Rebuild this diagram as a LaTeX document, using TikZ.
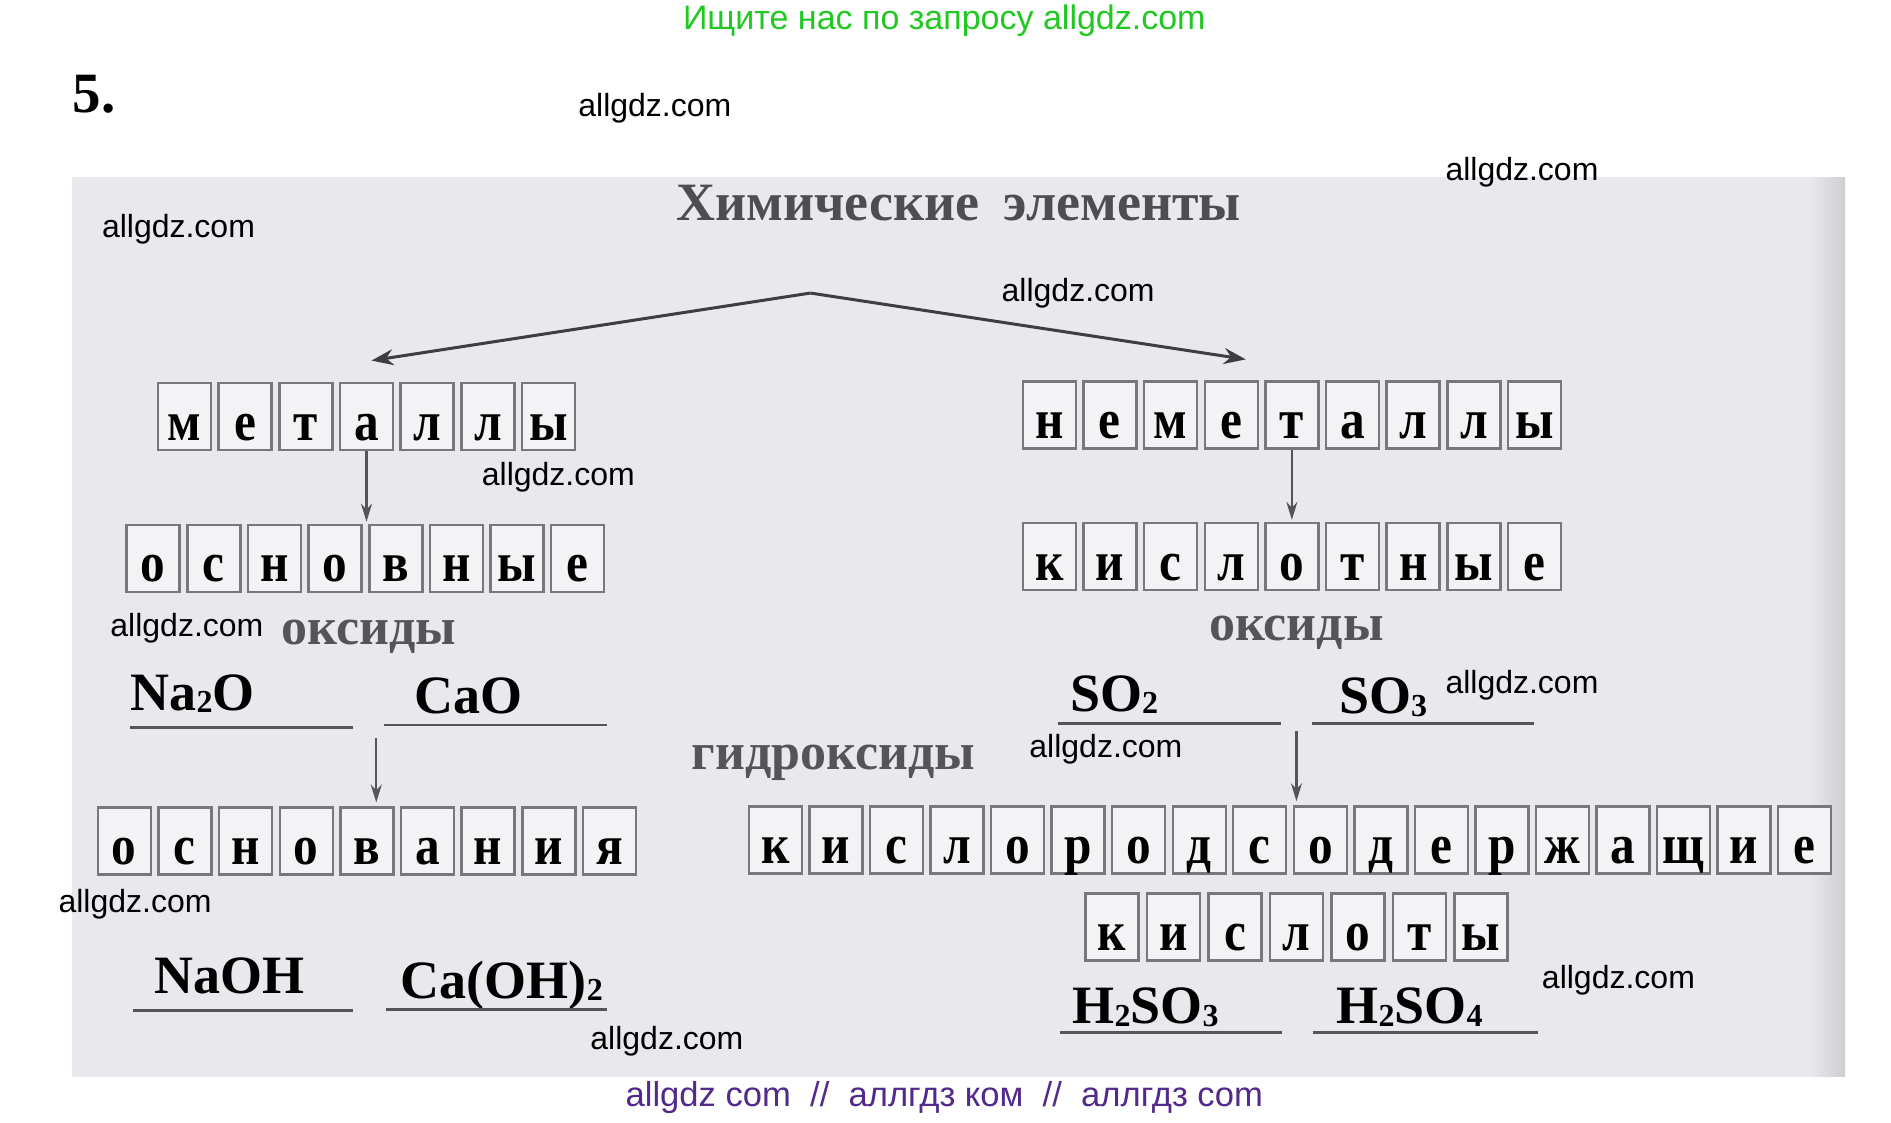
\documentclass[tikz,border=0pt]{standalone}
\usepackage{fontspec}
\setmainfont{Liberation Serif}
\newfontfamily\wmfont{Liberation Sans}
\usetikzlibrary{arrows.meta,calc}
\definecolor{panelbg}{RGB}{233,233,237}
\definecolor{paneledge}{RGB}{205,205,210}
\definecolor{boxfill}{RGB}{243,243,246}
\definecolor{boxline}{RGB}{120,120,124}
\definecolor{inkgray}{RGB}{62,62,64}
\definecolor{titlegray}{RGB}{78,78,80}
\definecolor{labgray}{RGB}{85,85,88}
\definecolor{wmgreen}{RGB}{34,200,34}
\definecolor{wmpurple}{RGB}{82,42,140}
\newcommand\lowdig[1]{\raisebox{-0.04em}{\fontsize{16}{16}\selectfont #1}}
\newcommand\letterrow[5]{%
  \foreach \ch [count=\i] in {#5}{\node[lbox] (#1\i) at ({#2+#4*(\i-1)},#3) {\scalebox{0.88}[1]{\ch}};}}
\tikzset{
  lbox/.style={draw=boxline, line width=1.2pt, fill=boxfill, minimum width=26.5pt,
    minimum height=33.5pt, inner sep=0pt, text height=24pt, text depth=0.5pt,
    font=\bfseries\fontsize{28}{28}\selectfont},
  formula/.style={anchor=base west, inner sep=0pt, font=\bfseries\fontsize{27}{27}\selectfont},
  uline/.style={draw=labgray, line width=1.3pt},
  wm/.style={font=\wmfont\fontsize{16}{16}\selectfont, text=black, inner sep=0pt},
  bigarrow/.style={draw=inkgray, line width=1.5pt, -{Stealth[length=11pt,width=8pt]}},
  downarrow/.style={draw=labgray, line width=1.1pt, -{Stealth[length=9pt,width=5.5pt]}},
  grlabel/.style={anchor=base, inner sep=0pt, text=labgray, font=\bfseries\fontsize{26}{26}\selectfont}
}
\begin{document}
\begin{tikzpicture}[x=0.603pt,y=-0.603pt]
\useasboundingbox (0,0) rectangle (1568,931);
\fill[white] (0,0) rectangle (1568,931);
\fill[panelbg] (60,147) rectangle (1530,893);
\shade[left color=panelbg, right color=paneledge] (1500,147) rectangle (1530,893);

% header watermark
\node[inner sep=0pt, text=wmgreen, font=\wmfont\fontsize{17}{17}\selectfont] (hdr) at (783,17) {Ищите нас по запросу allgdz.com};
\node[inner sep=0pt, font=\bfseries\fontsize{28.5}{28.5}\selectfont] (num) at (78,78) {5.};

% title
\node[anchor=base, inner sep=0pt, text=titlegray, font=\bfseries\fontsize{27}{27}\selectfont] (title) at (795,183) {Химические\hspace{0.45em}элементы};
\coordinate (apex) at (672,243);
\coordinate (tl) at (308,299);
\coordinate (tr) at (1033,298);

% letter rows
\letterrow{m}{153}{345.5}{50.3}{м,е,т,а,л,л,ы}
\letterrow{o}{127}{463}{50.3}{о,с,н,о,в,н,ы,е}
\letterrow{n}{870}{344}{50.3}{н,е,м,е,т,а,л,л,ы}
\letterrow{k}{870}{461.5}{50.3}{к,и,с,л,о,т,н,ы,е}
\letterrow{b}{103}{697.5}{50.3}{о,с,н,о,в,а,н,и,я}
\letterrow{q}{643}{696.5}{50.2}{к,и,с,л,о,р,о,д,с,о,д,е,р,ж,а,щ,и,е}
\letterrow{s}{922}{768.5}{51}{к,и,с,л,о,т,ы}

% labels
\node[grlabel] (ox1) at (306,534) {оксиды};
\node[grlabel] (ox2) at (1075,531) {оксиды};
\node[grlabel] (hyd) at (691,638) {гидроксиды};

% formulas
\node[formula] (f1) at (108,589) {Na\lowdig{2}O};
\node[formula] (f2) at (343,592) {CaO};
\node[formula] (f3) at (887,590) {SO\lowdig{2}};
\node[formula] (f4) at (1110,592) {SO\lowdig{3}};
\node[formula] (f5) at (128,824) {NaOH};
\node[formula] (f6) at (332,828) {Ca(OH)\lowdig{2}};
\node[formula] (f7) at (889,849) {H\lowdig{2}SO\lowdig{3}};
\node[formula] (f8) at (1108,849) {H\lowdig{2}SO\lowdig{4}};

\draw[uline] (108,603) -- (293,603);
\draw[uline] (318,601) -- (503,601);
\draw[uline] (877,600) -- (1062,600);
\draw[uline] (1088,600) -- (1272,600);
\draw[uline] (110,838) -- (293,838);
\draw[uline] (320,837) -- (503,837);
\draw[uline] (879,856) -- (1063,856);
\draw[uline] (1089,856) -- (1275,856);

% arrows
\draw[bigarrow] (apex) -- (tl);
\draw[bigarrow] (apex) -- (tr);
\draw[downarrow, shorten >=1pt] (m4.south) -- (m4.south |- o1.north);
\draw[downarrow, shorten >=1pt] (n5.south) -- (n5.south |- k1.north);
\coordinate (c1) at (312,612);
\coordinate (c2) at (1075,606);
\draw[downarrow, shorten >=2pt] (c1) -- (c1 |- b1.north);
\draw[downarrow, shorten >=2pt] (c2) -- (c2 |- q1.north);

% watermarks
\node[wm] (w1) at (543,90) {allgdz.com};
\node[wm] (w2) at (1262,143) {allgdz.com};
\node[wm] (w3) at (148,190) {allgdz.com};
\node[wm] (w4) at (894,243) {allgdz.com};
\node[wm] (w5) at (463,396) {allgdz.com};
\node[wm] (w6) at (155,521) {allgdz.com};
\node[wm] (w7) at (1262,568) {allgdz.com};
\node[wm] (w8) at (917,621) {allgdz.com};
\node[wm] (w9) at (112,750) {allgdz.com};
\node[wm] (w10) at (1342,813) {allgdz.com};
\node[wm] (w11) at (553,863) {allgdz.com};
\node[inner sep=0pt, text=wmpurple, font=\wmfont\fontsize{17.3}{17.3}\selectfont] (ftr) at (783,910) {allgdz com\ \ //\ \ аллгдз ком\ \ //\ \ аллгдз com};
\end{tikzpicture}
\end{document}
